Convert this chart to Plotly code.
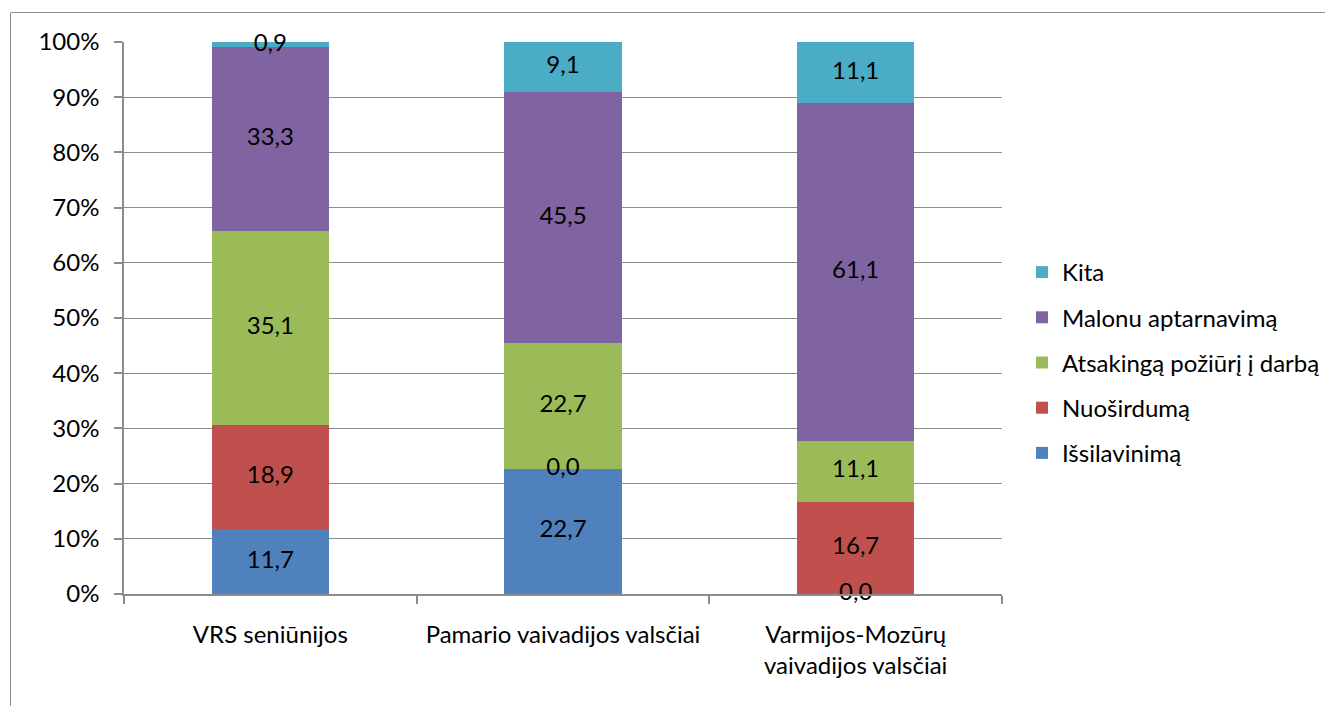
import numpy as np
import plotly.graph_objects as go

# Respondent groups (x categories)
categories = [
    "VRS seniūnijos",
    "Pamario vaivadijos valsčiai",
    "Varmijos-Mozūrų<br>vaivadijos valsčiai",
]

# Stack segments, bottom to top
series_names = [
    "Išsilavinimą",
    "Nuoširdumą",
    "Atsakingą požiūrį į darbą",
    "Malonu aptarnavimą",
    "Kita",
]
issilavinima = [11.7, 22.7, 0.0]
nuosirduma = [18.9, 0.0, 16.7]
atsakinga = [35.1, 22.7, 11.1]
malonu = [33.3, 45.5, 61.1]
kita = [0.9, 9.1, 11.1]

y_ticks = [0, 10, 20, 30, 40, 50, 60, 70, 80, 90, 100]
y_tick_labels = [f"{v}%" for v in y_ticks]

colors = ["#4F81BD", "#C0504D", "#9BBB59", "#8064A2", "#4BACC6"]
FONT = "Lato"
FS = 24
GRID = "#8c8c8c"

series_values = [issilavinima, nuosirduma, atsakinga, malonu, kita]
n_series = len(series_names)

fig = go.Figure()
for i, (name, vals) in enumerate(zip(series_names, series_values)):
    fig.add_trace(go.Bar(
        x=categories, y=vals, name=name,
        marker=dict(color=colors[i], line=dict(width=0)),
        legendgroup=name, legendrank=n_series - i,
        hoverinfo="skip",
    ))

# Data labels centred in each segment of the normalised stack
vals = np.array(series_values, dtype=float)
totals = vals.sum(axis=0)
pct = vals / totals * 100
tops = np.cumsum(pct, axis=0)
mids = tops - pct / 2
for i in range(n_series):
    fig.add_trace(go.Scatter(
        x=categories, y=mids[i], mode="text",
        text=[f"{v:.1f}".replace(".", ",") for v in vals[i]],
        textposition="middle center",
        textfont=dict(family=FONT, size=FS, color="#000000"),
        cliponaxis=False,
        showlegend=False, hoverinfo="skip",
    ))

# Outer chart frame
fig.add_shape(
    type="rect", xref="paper", yref="paper",
    x0=(10.5 - 124) / 878, x1=(1340 - 124) / 878,
    y0=(594 - 720) / 552, y1=(594 - 12.5) / 552,
    line=dict(color="#8e8e8e", width=1), layer="below",
)

fig.update_layout(
    width=1325, height=706,
    margin=dict(l=124, r=323, t=42, b=112, autoexpand=False),
    paper_bgcolor="white", plot_bgcolor="white",
    barmode="stack", barnorm="percent", bargap=0.6,
    font=dict(family=FONT, size=FS, color="#000000"),
    legend=dict(
        x=(1022 - 124) / 878, xanchor="left",
        y=(594 - 362.5) / 552, yanchor="middle",
        traceorder="grouped", tracegroupgap=11,
        font=dict(family=FONT, size=FS, color="#000000"),
        itemclick=False, itemdoubleclick=False,
    ),
    xaxis=dict(
        showline=True, linecolor=GRID, linewidth=1.5,
        ticks="outside", ticklen=8, tickcolor=GRID, tickwidth=1.5,
        tickson="boundaries", showgrid=False,
        ticklabelstandoff=18,
        tickfont=dict(family=FONT, size=FS, color="#000000"),
    ),
    yaxis=dict(
        range=[0, 100], tickmode="array", tickvals=y_ticks, ticktext=y_tick_labels,
        showline=True, linecolor=GRID, linewidth=1.5,
        ticks="outside", ticklen=8, tickcolor=GRID, tickwidth=1.5,
        showgrid=True, gridcolor=GRID, gridwidth=1,
        zeroline=False, ticklabelstandoff=10,
        tickfont=dict(family=FONT, size=FS, color="#000000"),
    ),
    showlegend=True,
)

fig.write_html("out.html")
